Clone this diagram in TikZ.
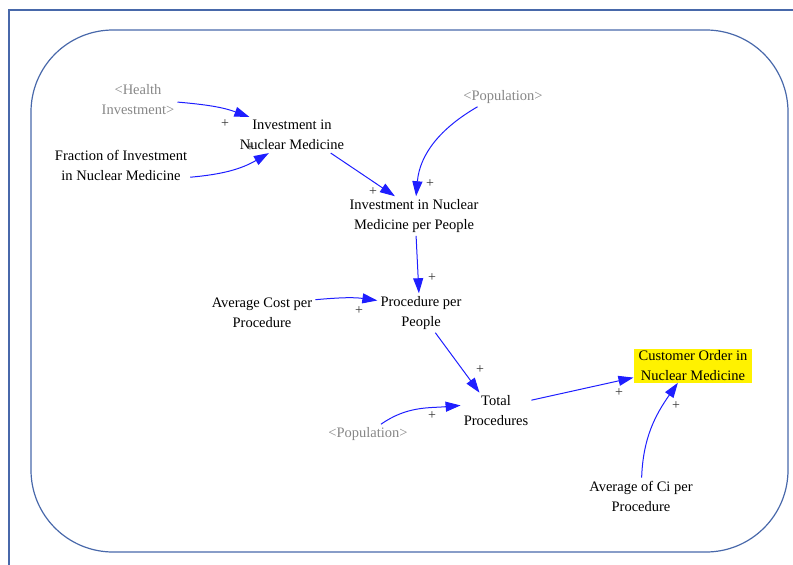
\documentclass[tikz,border=0pt]{standalone}
\usepackage{fontspec}
\setmainfont{Liberation Serif}
\usetikzlibrary{arrows.meta}
\definecolor{framec}{RGB}{72,104,170}
\definecolor{linkc}{RGB}{30,30,255}
\definecolor{shadowc}{RGB}{135,135,135}
\definecolor{signc}{RGB}{50,50,50}
\tikzset{
  var/.style={align=center,inner sep=3pt,font=\fontsize{14.5}{20}\selectfont},
  shadowvar/.style={var,text=shadowc},
  link/.style={draw=linkc,line width=1pt,-{Triangle[length=15pt,width=10pt]}},
  sign/.style={inner sep=0pt,text=signc,font=\fontsize{14}{14}\selectfont},
}
\begin{document}
\begin{tikzpicture}[x=1pt,y=-1pt]
\useasboundingbox (0,0) rectangle (793,565);
% page frame and diagram boundary
\draw[framec,line width=1.2pt] (793,10) -- (9,10) -- (9,565);
\draw[framec,line width=1.2pt,rounded corners=82pt] (31,30) rectangle (788,552);

% variables
\node[shadowvar] (hi) at (138,100) {<Health\\Investment>};
\node[var] (invnm) at (292,135) {Investment in\\Nuclear Medicine};
\node[var] (frac) at (121,165) {Fraction of Investment\\in Nuclear Medicine};
\node[shadowvar] (poptop) at (503,97) {<Population>};
\node[var] (invpp) at (414,216) {Investment in Nuclear\\Medicine per People};
\node[var] (avgcost) at (262,313) {Average Cost per\\Procedure};
\node[var] (ppp) at (421,313) {Procedure per\\People};
\node[var] (total) at (496,411) {Total\\Procedures};
\node[shadowvar] (popbot) at (368,434) {<Population>};
\node[var,fill=yellow,inner xsep=5pt,inner ysep=1.5pt] (order) at (693,366) {Customer Order in\\Nuclear Medicine};
\node[var] (avgci) at (641,496) {Average of Ci per\\Procedure};

% causal links
\draw[link] (hi.-3) to[out=-5,in=160] (invnm.157);
\draw[link] (frac.-10) to[out=5,in=210] (invnm.218);
\draw[link] (invnm.-25) -- (invpp.134);
\draw[link] (poptop.201) to[out=210,in=85] (invpp.84);
\draw[link] (invpp.-84) -- (ppp.96);
\draw[link] (avgcost.14) to[out=5,in=172] (ppp.164);
\draw[link] (ppp.-54) -- (total.132);
\draw[link] (popbot.37) to[out=35,in=185] (total.171);
\draw[link] (total.17) -- (order.191);
\draw[link] (avgci.88) to[out=88,in=235] (order.228);

% polarity signs
\node[sign] (s1) at (225,124) {+};
\node[sign] (s2) at (250,148) {+};
\node[sign] (s3) at (373,192) {+};
\node[sign] (s4) at (430,184) {+};
\node[sign] (s5) at (432,278) {+};
\node[sign] (s6) at (359,311) {+};
\node[sign] (s7) at (480,370) {+};
\node[sign] (s8) at (432,416) {+};
\node[sign] (s9) at (619,393) {+};
\node[sign] (s10) at (676,406) {+};
\end{tikzpicture}
\end{document}
